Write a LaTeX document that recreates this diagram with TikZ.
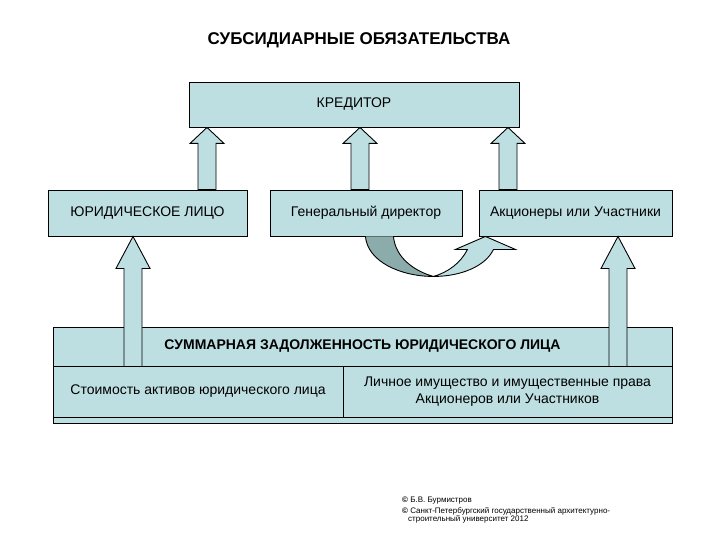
\documentclass[tikz,border=0pt]{standalone}
\usepackage{fontspec}
\setmainfont{Liberation Sans}
\usetikzlibrary{calc}
\definecolor{boxfill}{RGB}{190,223,226}
\definecolor{shadefill}{RGB}{140,172,172}
% block arrow: #1 head length, #2 tip, #3 foot of the shaft
\newcommand{\blockarrow}[3][16]{%
  \draw[fatarrow] (#2) -- ($(#2)+(17,#1)$) -- ($(#2)+(9,#1)$) -- ($(#3)+(9,0)$)
    -- ($(#3)+(-9,0)$) -- ($(#2)+(-9,#1)$) -- ($(#2)+(-17,#1)$) -- cycle;}

\begin{document}
\begin{tikzpicture}[x=1pt,y=-1pt,
  cell/.style={draw, fill=boxfill, line width=0.9pt, inner sep=0pt, align=center,
    font=\fontsize{14}{16.5}\selectfont},
  fatarrow/.style={draw, fill=boxfill, line width=0.9pt, line join=miter}]
  \useasboundingbox (0,0) rectangle (720,540);
  \node[font=\bfseries\fontsize{17}{19}\selectfont] (title) at (359,40) {СУБСИДИАРНЫЕ ОБЯЗАТЕЛЬСТВА};
  \node[cell, minimum width=330pt, minimum height=45pt] (cred) at (354,104.5) {КРЕДИТОР};
  \node[cell, minimum width=199pt, minimum height=46pt] (jur) at (147.5,213) {ЮРИДИЧЕСКОЕ ЛИЦО};
  \node[cell, minimum width=192pt, minimum height=46pt] (gen) at (366,213) {Генеральный директор};
  \node[cell, minimum width=193pt, minimum height=46pt] (share) at (575.5,213) {Акционеры или Участники};
  \node[cell, minimum width=619pt, minimum height=39pt, font=\bfseries\fontsize{14}{16.5}\selectfont] (total) at (362.5,346.5) {СУММАРНАЯ ЗАДОЛЖЕННОСТЬ ЮРИДИЧЕСКОГО ЛИЦА};
  \node[cell, minimum width=290pt, minimum height=51pt] (assets) at (198,391.5) {Стоимость активов юридического лица};
  \node[cell, minimum width=329pt, minimum height=51pt] (prop) at (507.5,391.5) {Личное имущество и имущественные права\\Акционеров или Участников};
  \node[cell, minimum width=619pt, minimum height=6pt] (strip) at (362.5,420) {};
  \foreach \x/\n in {207/jur,360/gen,508/share} {
    \coordinate (c) at (\x,0);
    \blockarrow{c |- cred.south}{c |- \n.north}}
  \foreach \x/\n in {133/jur,618/share} {
    \coordinate (c) at (\x,0);
    \blockarrow[32]{c |- \n.south}{c |- total.south}}
  % curved arrow from the director to the shareholders
  \begin{scope}[shift={(gen.south east)}, line width=0.9pt]
    \draw[fill=shadefill] (-97,0) .. controls (-95,25) and (-62,40) .. (-29,40)
      .. controls (-47,35) and (-67,22) .. (-69,0);
    \draw[fill=boxfill] (-29,40) .. controls (-2,40) and (23,30) .. (31,13) -- (53,13) -- (23,0)
      -- (-7,13) -- (5,13) .. controls (-2,27) and (-15,36) .. (-29,40) -- cycle;
  \end{scope}
  \node[anchor=north west, align=left, inner sep=0pt, font=\fontsize{8}{8.5}\selectfont] (credit) at (402,497)
    {\textbf{©} Б.В. Бурмистров\\[2pt]\textbf{©} Санкт-Петербургский государственный архитектурно-\\\hspace*{6pt}строительный университет 2012};
\end{tikzpicture}
\end{document}
